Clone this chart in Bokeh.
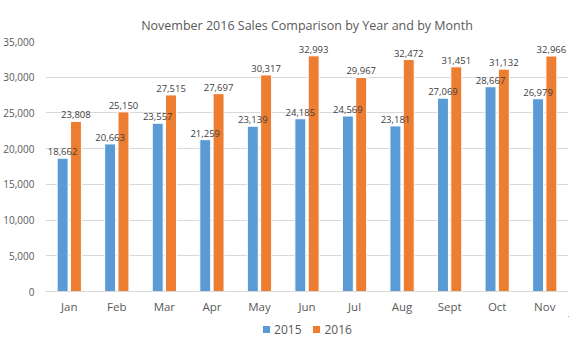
from bokeh.plotting import figure
from bokeh.layouts import column
from bokeh.core.properties import value
from bokeh.models import ColumnDataSource, FactorRange, Range1d, LabelSet, Legend, LegendItem, NumeralTickFormatter, FixedTicker
from bokeh.transform import dodge
from bokeh.embed import file_html
from bokeh.resources import INLINE

months = ["Jan", "Feb", "Mar", "Apr", "May", "Jun", "Jul", "Aug", "Sept", "Oct", "Nov"]
sales_2015 = [18662, 20663, 23557, 21259, 23139, 24185, 24569, 23181, 27069, 28667, 26979]
sales_2016 = [23808, 25150, 27515, 27697, 30317, 32993, 29967, 32472, 31451, 31132, 32966]
y_ticks = [0, 5000, 10000, 15000, 20000, 25000, 30000, 35000]
series_names = ["2015", "2016"]

FONT = "Open Sans"
GREY = "#595959"
BLUE = "#5B9BD5"
ORANGE = "#ED7D31"

src = ColumnDataSource(dict(
    m=months, a=sales_2015, b=sales_2016,
    la=[f"{v:,}" for v in sales_2015], lb=[f"{v:,}" for v in sales_2016],
))

p = figure(width=580, height=316, x_range=FactorRange(*months), y_range=Range1d(0, 35000),
           output_backend="svg", toolbar_location=None,
           min_border_left=44, min_border_right=12, min_border_top=41, min_border_bottom=22)
p.title.text = "November 2016 Sales Comparison by Year and by Month"
p.title.align = "center"
p.title.text_font = FONT
p.title.text_font_size = "12.5px"
p.title.text_font_style = "normal"
p.title.text_color = GREY
p.title.standoff = 16
p.outline_line_color = None

r1 = p.vbar(x=dodge("m", -0.14, range=p.x_range), top="a", width=0.23, source=src,
            fill_color=BLUE, line_color="white", line_width=1)
r2 = p.vbar(x=dodge("m", 0.14, range=p.x_range), top="b", width=0.23, source=src,
            fill_color=ORANGE, line_color="white", line_width=1)

for col, lab, off in (("a", "la", -0.14), ("b", "lb", 0.14)):
    ls = LabelSet(x=dodge("m", off, range=p.x_range), y=col, text=lab, source=src,
                  text_align="center", text_baseline="bottom", y_offset=3,
                  text_font=value(FONT), text_font_size=value("9.5px"), text_color=value("#404040"))
    p.add_layout(ls)

p.yaxis.ticker = FixedTicker(ticks=y_ticks)
p.yaxis.formatter = NumeralTickFormatter(format="0,0")
p.yaxis.axis_line_color = None
p.yaxis.major_tick_line_color = None
p.yaxis.minor_tick_line_color = None
p.yaxis.major_label_text_font = FONT
p.yaxis.major_label_text_font_size = "10px"
p.yaxis.major_label_text_color = GREY

p.xaxis.axis_line_color = "#D9D9D9"
p.xaxis.major_tick_line_color = None
p.xaxis.major_label_text_font = FONT
p.xaxis.major_label_text_font_size = "11.5px"
p.xaxis.major_label_text_color = GREY
p.xaxis.major_label_standoff = 1

p.xgrid.grid_line_color = None
p.ygrid.grid_line_color = "#D9D9D9"
p.x_range.range_padding = 0
p.x_range.group_padding = 0

# legend strip (its bars reuse the data but fall outside the strip's visible range)
lf = figure(width=580, height=26, output_backend="svg", toolbar_location=None,
            x_axis_type=None, y_axis_type=None, x_range=Range1d(-2, -1), y_range=Range1d(-2, -1),
            min_border=0)
lf.outline_line_color = None
lf.grid.visible = False
l1 = lf.vbar(x="a", top="a", width=1, source=src, fill_color=BLUE, line_color=None)
l2 = lf.vbar(x="b", top="b", width=1, source=src, fill_color=ORANGE, line_color=None)
legend = Legend(items=[LegendItem(label=series_names[0], renderers=[l1]),
                       LegendItem(label=series_names[1], renderers=[l2])],
                orientation="horizontal", location="center",
                label_text_font=FONT, label_text_font_size="12px", label_text_color=GREY,
                glyph_width=9, glyph_height=9, spacing=10, label_standoff=4,
                border_line_color=None, background_fill_alpha=0, padding=2, margin=0)
lf.add_layout(legend)

layout = column(p, lf, spacing=0)
open("out.html", "w").write(file_html(layout, INLINE))
